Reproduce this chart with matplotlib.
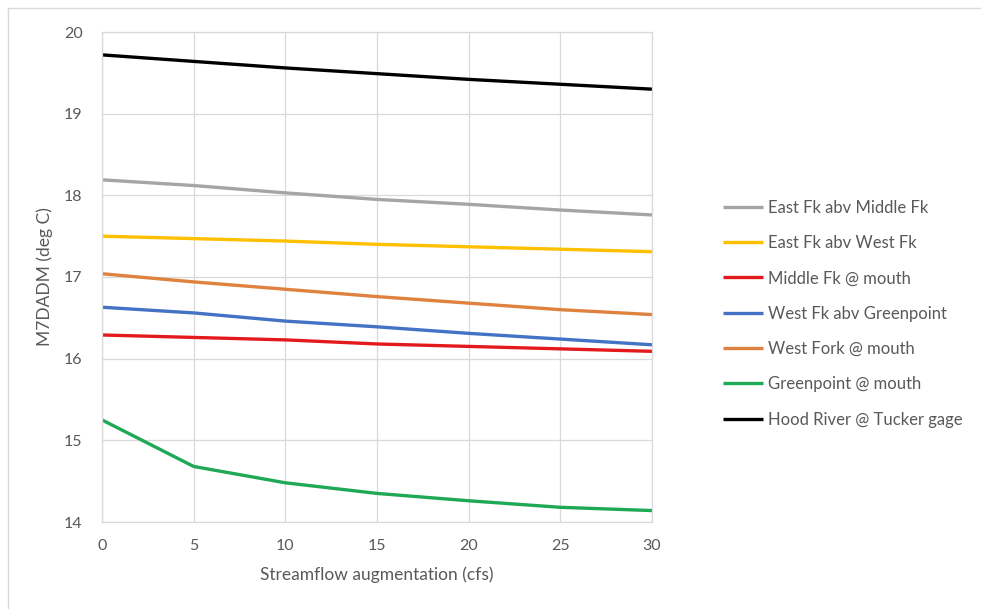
import matplotlib
matplotlib.use("Agg")
from matplotlib import pyplot as plt
from matplotlib.lines import Line2D

# streamflow augmentation (cfs)
flow = [0, 5, 10, 15, 20, 25, 30]

# M7DADM (deg C) for each site
east_fk_abv_middle = [18.19, 18.12, 18.03, 17.95, 17.89, 17.82, 17.76]
east_fk_abv_west = [17.50, 17.47, 17.44, 17.40, 17.37, 17.34, 17.31]
middle_fk_mouth = [16.29, 16.26, 16.23, 16.18, 16.15, 16.12, 16.09]
west_fk_abv_green = [16.63, 16.56, 16.46, 16.39, 16.31, 16.24, 16.17]
west_fork_mouth = [17.04, 16.94, 16.85, 16.76, 16.68, 16.60, 16.54]
greenpoint_mouth = [15.25, 14.68, 14.48, 14.35, 14.26, 14.18, 14.14]
hood_river_tucker = [19.72, 19.64, 19.56, 19.49, 19.42, 19.36, 19.30]

names = ["East Fk abv Middle Fk", "East Fk abv West Fk", "Middle Fk @ mouth",
         "West Fk abv Greenpoint", "West Fork @ mouth", "Greenpoint @ mouth",
         "Hood River @ Tucker gage"]
series = [east_fk_abv_middle, east_fk_abv_west, middle_fk_mouth,
          west_fk_abv_green, west_fork_mouth, greenpoint_mouth, hood_river_tucker]
colors = ["#a5a5a5", "#ffc000", "#e31a1c", "#4472c4", "#e0823f", "#1fa855", "#000000"]

plt.rcParams['font.family'] = ['Lato', 'DejaVu Sans']
text_col = "#595959"
grid_col = "#d9d9d9"

fig = plt.figure(figsize=(9.81, 6.09), dpi=100)
ax = fig.add_axes([102/981, 1 - 522/609, 550/981, 490/609])

for vals, name, c in zip(series, names, colors):
    ax.plot(flow, vals, color=c, lw=2.4, label=name, solid_capstyle='butt')

ax.set_xlim(0, 30)
ax.set_ylim(14, 20)
ax.set_xticks(range(0, 31, 5))
ax.set_yticks(range(14, 21))
ax.grid(True, color=grid_col, lw=0.9)
ax.set_axisbelow(True)
for s in ax.spines.values():
    s.set_color(grid_col)
    s.set_linewidth(0.9)
ax.tick_params(length=0, labelsize=11.5, labelcolor=text_col)
ax.tick_params(axis='x', pad=12)
ax.tick_params(axis='y', pad=14)
ax.set_xlabel("Streamflow augmentation (cfs)", fontsize=12.5, color=text_col, labelpad=10)
ax.set_ylabel("M7DADM (deg C)", fontsize=12.5, color=text_col, labelpad=8)

leg = ax.legend(loc='upper left', bbox_to_anchor=(716/981, 1 - 193/609),
                bbox_transform=fig.transFigure, frameon=False, fontsize=12,
                handlelength=2.4, handletextpad=0.3, labelspacing=1.16,
                borderaxespad=0)
for t in leg.get_texts():
    t.set_color(text_col)

# chart frame lines (top and left edges of the outer border)
fig.add_artist(Line2D([8/981, 1], [1 - 8/609, 1 - 8/609], transform=fig.transFigure,
                      color=grid_col, lw=1))
fig.add_artist(Line2D([8/981, 8/981], [0, 1 - 8/609], transform=fig.transFigure,
                      color=grid_col, lw=1))

plt.savefig("out.png", dpi=100)
